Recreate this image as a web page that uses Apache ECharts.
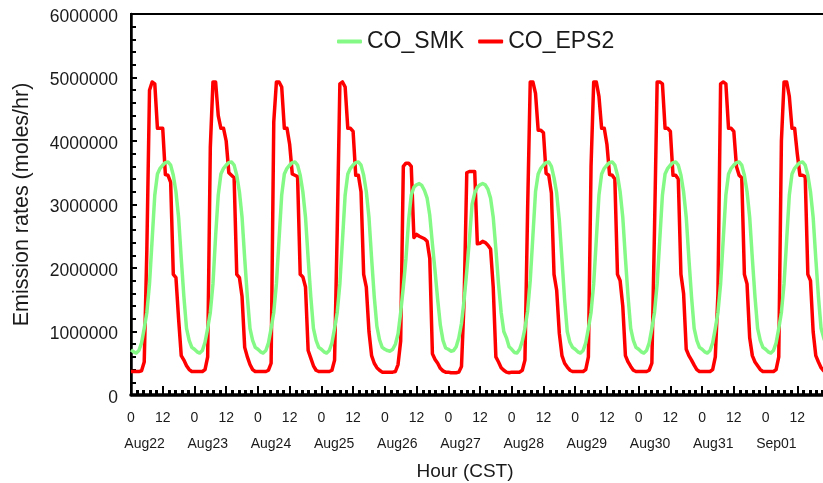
<!DOCTYPE html>
<html>
<head>
<meta charset="utf-8">
<script src="https://cdn.jsdelivr.net/npm/echarts@6/dist/echarts.min.js"></script>
<style>
  html, body { margin: 0; padding: 0; background: #fff; }
  #chart { width: 823px; height: 483px; }
</style>
</head>
<body>
<div id="chart"></div>
<script>
// tick labels
const hourLabels = ['0', '12'];
const dayLabels = ['Aug22', 'Aug23', 'Aug24', 'Aug25', 'Aug26', 'Aug27',
  'Aug28', 'Aug29', 'Aug30', 'Aug31', 'Sep01'];
const seriesNames = ['CO_SMK', 'CO_EPS2'];

// hourly emission rates (moles/hr), one row per day, hour 0..23
const coSmk = [
  710000, 680000, 660000, 700000, 820000, 1050000, 1300000, 1750000, 2450000, 3150000, 3480000, 3570000, 3620000, 3660000, 3670000, 3620000, 3460000, 3200000, 2800000, 2150000, 1550000, 1050000, 860000, 750000,
  720000, 680000, 660000, 700000, 830000, 1050000, 1300000, 1750000, 2500000, 3150000, 3480000, 3570000, 3620000, 3660000, 3670000, 3620000, 3460000, 3200000, 2800000, 2150000, 1550000, 1050000, 860000, 750000,
  720000, 680000, 660000, 700000, 820000, 1050000, 1300000, 1750000, 2450000, 3150000, 3480000, 3570000, 3620000, 3660000, 3670000, 3620000, 3460000, 3200000, 2800000, 2150000, 1550000, 1050000, 860000, 750000,
  720000, 680000, 660000, 700000, 820000, 1050000, 1300000, 1750000, 2450000, 3150000, 3480000, 3570000, 3620000, 3660000, 3670000, 3620000, 3460000, 3200000, 2800000, 2150000, 1550000, 1080000, 870000, 750000,
  720000, 700000, 690000, 720000, 800000, 960000, 1300000, 1700000, 2150000, 2750000, 3150000, 3270000, 3310000, 3330000, 3300000, 3220000, 3100000, 2830000, 2380000, 1950000, 1500000, 1100000, 860000, 740000,
  720000, 690000, 700000, 760000, 900000, 1130000, 1500000, 1950000, 2450000, 3000000, 3180000, 3270000, 3310000, 3330000, 3310000, 3240000, 3100000, 2800000, 2300000, 1750000, 1300000, 1000000, 900000, 760000,
  720000, 670000, 660000, 720000, 850000, 1050000, 1320000, 1800000, 2500000, 3200000, 3480000, 3570000, 3620000, 3660000, 3670000, 3600000, 3420000, 3180000, 2750000, 2130000, 1500000, 1000000, 830000, 750000,
  720000, 680000, 660000, 700000, 820000, 1050000, 1300000, 1750000, 2450000, 3150000, 3480000, 3570000, 3620000, 3660000, 3670000, 3620000, 3460000, 3200000, 2800000, 2150000, 1550000, 1050000, 860000, 750000,
  720000, 680000, 660000, 700000, 820000, 1050000, 1300000, 1750000, 2450000, 3150000, 3480000, 3570000, 3620000, 3660000, 3670000, 3620000, 3460000, 3200000, 2800000, 2150000, 1550000, 1050000, 860000, 750000,
  720000, 680000, 660000, 700000, 820000, 1050000, 1300000, 1750000, 2450000, 3150000, 3480000, 3570000, 3620000, 3660000, 3670000, 3620000, 3460000, 3200000, 2800000, 2150000, 1550000, 1050000, 860000, 750000,
  720000, 680000, 660000, 700000, 820000, 1050000, 1300000, 1750000, 2450000, 3150000, 3480000, 3570000, 3620000, 3660000, 3670000, 3620000, 3460000, 3200000, 2800000, 2150000, 1550000, 1050000, 900000, 780000
];

const coEps2 = [
  370000, 370000, 370000, 370000, 380000, 520000, 2300000, 4800000, 4930000, 4900000, 4200000, 4200000, 4200000, 3470000, 3460000, 3350000, 1900000, 1850000, 1200000, 620000, 550000, 460000, 400000, 370000,
  370000, 370000, 370000, 370000, 400000, 600000, 3900000, 4930000, 4930000, 4400000, 4200000, 4200000, 4000000, 3500000, 3460000, 3420000, 1900000, 1850000, 1550000, 750000, 600000, 480000, 400000, 370000,
  370000, 370000, 370000, 370000, 390000, 500000, 4300000, 4930000, 4930000, 4850000, 4200000, 4200000, 3950000, 3480000, 3460000, 3440000, 1900000, 1860000, 1700000, 700000, 580000, 460000, 390000, 370000,
  370000, 370000, 370000, 370000, 390000, 550000, 2600000, 4900000, 4930000, 4850000, 4200000, 4200000, 4150000, 3460000, 3460000, 3200000, 1900000, 1700000, 1000000, 620000, 500000, 430000, 390000, 360000,
  360000, 360000, 360000, 360000, 370000, 480000, 850000, 3600000, 3650000, 3650000, 3600000, 2480000, 2530000, 2500000, 2480000, 2460000, 2420000, 2150000, 650000, 560000, 500000, 420000, 380000, 360000,
  360000, 350000, 350000, 350000, 360000, 450000, 1500000, 3500000, 3520000, 3520000, 3520000, 2380000, 2390000, 2420000, 2400000, 2360000, 2300000, 1700000, 600000, 520000, 430000, 390000, 360000, 350000,
  360000, 360000, 360000, 360000, 390000, 550000, 2900000, 4930000, 4930000, 4750000, 4170000, 4170000, 4130000, 3490000, 3460000, 3180000, 1900000, 1650000, 970000, 620000, 500000, 440000, 390000, 370000,
  370000, 370000, 370000, 370000, 400000, 600000, 3600000, 4930000, 4930000, 4700000, 4200000, 4200000, 3950000, 3470000, 3460000, 3400000, 1900000, 1800000, 1400000, 620000, 520000, 450000, 390000, 370000,
  370000, 370000, 370000, 370000, 390000, 500000, 2600000, 4930000, 4930000, 4900000, 4200000, 4200000, 4150000, 3460000, 3460000, 3400000, 1900000, 1600000, 720000, 620000, 550000, 470000, 400000, 370000,
  370000, 370000, 370000, 370000, 400000, 600000, 1600000, 4900000, 4930000, 4900000, 4200000, 4200000, 4150000, 3600000, 3460000, 3420000, 1900000, 1750000, 900000, 620000, 520000, 460000, 400000, 370000,
  370000, 370000, 370000, 370000, 400000, 600000, 4000000, 4930000, 4930000, 4700000, 4200000, 4200000, 3800000, 3460000, 3460000, 3440000, 1900000, 1800000, 1000000, 620000, 520000, 430000, 380000, 360000
];

const FONT = '"Liberation Sans", Arial, sans-serif';
const TEXT = '#1a1a1a';
const toPoints = (values) => values.map((v, i) => [i, v]);

const chart = echarts.init(document.getElementById('chart'));

const option = {
  animation: false,
  backgroundColor: '#fff',
  textStyle: { fontFamily: FONT, color: TEXT },
  legend: {
    data: seriesNames,
    left: 332,
    top: 25,
    icon: 'roundRect',
    itemWidth: 25,
    itemHeight: 4,
    itemGap: 14,
    textStyle: { fontFamily: FONT, fontSize: 23, color: TEXT }
  },
  grid: [
    {
      left: 131, right: -6, top: 14, bottom: 88,
      show: true, borderColor: '#000', borderWidth: 2,
      outerBoundsMode: 'none'
    },
    // only used to place the day names under the hour ticks
    { left: 113, right: 15, top: 14, bottom: 88, outerBoundsMode: 'none' }
  ],
  xAxis: [
    {
      type: 'value',
      gridIndex: 0,
      min: 0,
      max: 264,
      interval: 12,
      axisLine: { show: true, lineStyle: { color: '#000', width: 3.5 } },
      axisTick: { show: true, inside: true, length: 9, lineStyle: { color: '#000', width: 2 } },
      minorTick: { show: true, splitNumber: 5, length: 5, lineStyle: { color: '#000', width: 3 } },
      splitLine: { show: false },
      axisLabel: {
        margin: 16,
        fontSize: 14,
        color: TEXT,
        fontFamily: FONT,
        showMaxLabel: false,
        formatter: (v) => hourLabels[(v % 24) / 12]
      }
    },
    {
      type: 'category',
      gridIndex: 1,
      data: dayLabels,
      boundaryGap: true,
      axisLine: { show: false },
      axisTick: { show: false },
      axisLabel: { margin: 42, fontSize: 14, color: TEXT, fontFamily: FONT, interval: 0 },
      name: 'Hour (CST)',
      nameLocation: 'middle',
      nameGap: 67,
      nameTextStyle: { fontSize: 19, color: TEXT, fontFamily: FONT, padding: [0, 0, 0, 9] }
    }
  ],
  yAxis: [
    {
      type: 'value',
      gridIndex: 0,
      min: 0,
      max: 6000000,
      interval: 1000000,
      name: 'Emission rates (moles/hr)',
      nameLocation: 'middle',
      nameGap: 98,
      nameTextStyle: { fontSize: 21.5, color: TEXT, fontFamily: FONT },
      axisLine: { show: true, lineStyle: { color: '#000', width: 2.5 } },
      axisTick: { show: true, inside: true, length: 6, lineStyle: { color: '#000', width: 2 } },
      minorTick: { show: true, splitNumber: 5, length: 5, lineStyle: { color: '#000', width: 2 } },
      splitLine: { show: false },
      axisLabel: {
        margin: 13,
        color: TEXT,
        fontFamily: FONT,
        formatter: (v) => '{t|' + v + '}',
        rich: {
          t: { fontSize: 17.5, fontFamily: FONT, color: TEXT, padding: [6, 0, 0, 0] }
        }
      }
    },
    { type: 'value', gridIndex: 1, show: false }
  ],
  series: [
    {
      name: seriesNames[1],
      type: 'line',
      xAxisIndex: 0,
      yAxisIndex: 0,
      data: toPoints(coEps2),
      showSymbol: false,
      lineStyle: { color: '#ff0000', width: 3.5, join: 'round' },
      itemStyle: { color: '#ff0000' }
    },
    {
      name: seriesNames[0],
      type: 'line',
      xAxisIndex: 0,
      yAxisIndex: 0,
      data: toPoints(coSmk),
      showSymbol: false,
      lineStyle: { color: '#85f985', width: 3.5, join: 'round' },
      itemStyle: { color: '#85f985' }
    }
  ]
};

chart.setOption(option);
</script>
</body>
</html>
